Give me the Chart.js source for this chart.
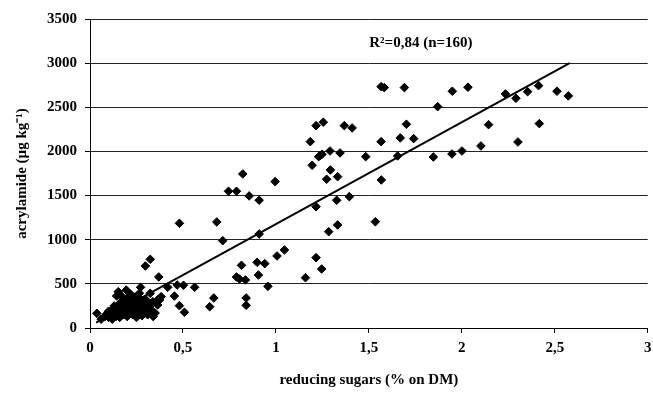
<!DOCTYPE html>
<html>
<head>
<meta charset="utf-8">
<script src="https://cdn.jsdelivr.net/npm/chart.js"></script>
<style>
  html, body { margin:0; padding:0; background:#fff; overflow:hidden; }
</style>
</head>
<body>
<canvas id="acryl" width="653" height="396"></canvas>
<script>
// reducing sugars (% on DM) vs acrylamide (µg/kg)
const sugars = [
  // upper cloud
  1.185,1.216,1.255,1.195,1.230,1.238,1.248,1.291,1.345,1.293,1.273,1.332,1.368,1.410,1.483,
  1.566,1.583,1.691,1.566,1.567,1.669,1.702,1.741,1.655,1.870,1.949,2.033,1.847,1.947,2.001,
  2.103,2.144,2.235,2.291,2.354,2.413,2.302,2.417,2.512,2.573,
  // middle
  1.216,1.284,1.332,1.327,1.395,1.535,1.216,1.246,1.159,0.822,0.745,0.788,0.996,0.856,0.910,
  0.481,0.682,0.714,0.910,1.046,1.006,0.899,0.940,0.815,0.906,0.788,0.804,0.836,0.957,0.503,
  0.563,0.481,0.508,0.644,0.666,0.840,0.840,0.298,0.324,0.370,
  // low
  0.037,0.272,0.324,0.302,0.374,0.418,0.454,0.469,0.325,0.347,0.310,0.367,0.152,0.143,0.164,
  0.195,0.266,0.338,0.364,0.383,
  // dense cluster near origin
  0.06,0.08,0.09,0.10,0.10,0.11,0.12,0.12,0.13,0.13,0.14,0.14,0.15,0.15,0.16,0.16,0.17,0.17,
  0.18,0.18,0.18,0.19,0.19,0.20,0.20,0.20,0.21,0.21,0.21,0.22,0.22,0.22,0.23,0.23,0.23,0.24,
  0.24,0.24,0.25,0.25,0.25,0.26,0.26,0.27,0.27,0.28,0.28,0.29,0.30,0.30,0.31,0.32,0.33,0.34,0.35
];
const acrylamide = [
  2111,2292,2331,1843,1941,1952,1968,2005,1983,1790,1685,1714,2292,2266,1941,
  2734,2723,2723,2111,1677,2153,2308,2145,1949,2507,2682,2727,1937,1971,2005,
  2062,2303,2651,2602,2677,2745,2107,2315,2682,2629,
  1374,1091,1167,1447,1488,1204,797,668,570,1745,1549,1549,1658,1496,1447,
  1186,1201,989,1065,884,816,744,729,710,600,578,555,544,472,484,
  461,253,178,241,340,340,257,702,778,578,
  166,461,393,317,317,461,362,487,212,166,185,325,411,363,374,
  430,393,298,261,355,
  100,130,160,120,190,150,210,100,170,250,130,200,230,160,280,120,190,250,
  150,310,220,180,270,210,130,340,240,300,170,200,270,380,150,230,320,190,
  260,350,120,220,300,170,250,200,330,140,260,230,180,280,150,240,200,130,170
];

const trendX = [0.033, 2.58];
const trendY = [60, 3000];

const xTicks = [0, 0.5, 1, 1.5, 2, 2.5, 3];
const yTicks = [0, 500, 1000, 1500, 2000, 2500, 3000, 3500];

const noteText = 'R²=0,84 (n=160)';
const notePos = [1.78, 3230];

const serif = "'Liberation Serif', 'Times New Roman', serif";
const font = { family: serif, size: 15, weight: 'bold' };

const points = sugars.map((x, i) => ({ x, y: acrylamide[i] }));
const trend = trendX.map((x, i) => ({ x, y: trendY[i] }));

const notePlugin = {
  id: 'note',
  afterDatasetsDraw(chart){
    const { ctx, scales: { x, y } } = chart;
    ctx.save();
    ctx.font = 'bold 15px ' + serif;
    ctx.fillStyle = '#000';
    ctx.textAlign = 'center';
    ctx.textBaseline = 'middle';
    ctx.fillText(noteText, x.getPixelForValue(notePos[0]), y.getPixelForValue(notePos[1]));
    ctx.restore();
  }
};

new Chart(document.getElementById('acryl'), {
  type: 'scatter',
  data: { datasets: [
    { data: points, pointStyle: 'rectRot', pointRadius: 4.3, borderWidth: 1,
      backgroundColor: '#000', borderColor: '#000' },
    { type: 'line', data: trend, borderColor: '#000', borderWidth: 2, pointRadius: 0, fill: false }
  ]},
  options: {
    responsive: false,
    animation: false,
    layout: { padding: { top: 19, right: 5, bottom: 0, left: 0 } },
    plugins: { legend: { display: false }, tooltip: { enabled: false } },
    scales: {
      x: {
        type: 'linear', min: 0, max: 3,
        afterBuildTicks: s => { s.ticks = xTicks.map(v => ({ value: v })); },
        afterFit: s => { s.height = 68; s.paddingLeft = 0; s.paddingRight = 0; },
        ticks: { font, color: '#000', padding: 6, maxRotation: 0,
                 callback: v => String(v).replace('.', ',') },
        grid: { drawOnChartArea: false, drawTicks: true, tickLength: 5, color: '#000' },
        border: { display: true, color: '#000', width: 1 },
        title: { display: true, text: 'reducing sugars (% on DM)', font, color: '#000',
                 padding: { top: 0, bottom: 7 } }
      },
      y: {
        min: 0, max: 3500,
        afterBuildTicks: s => { s.ticks = yTicks.map(v => ({ value: v })); },
        afterFit: s => { s.width = 90; },
        ticks: { font, color: '#000', padding: 8, callback: v => String(v) },
        grid: { color: '#222', lineWidth: 1, tickLength: 5, tickColor: '#000' },
        border: { display: true, color: '#000', width: 1 },
        title: { display: true, text: 'acrylamide (µg kg⁻¹)', font, color: '#000',
                 padding: { top: 13, bottom: 0 } }
      }
    }
  },
  plugins: [notePlugin]
});
</script>
</body>
</html>
